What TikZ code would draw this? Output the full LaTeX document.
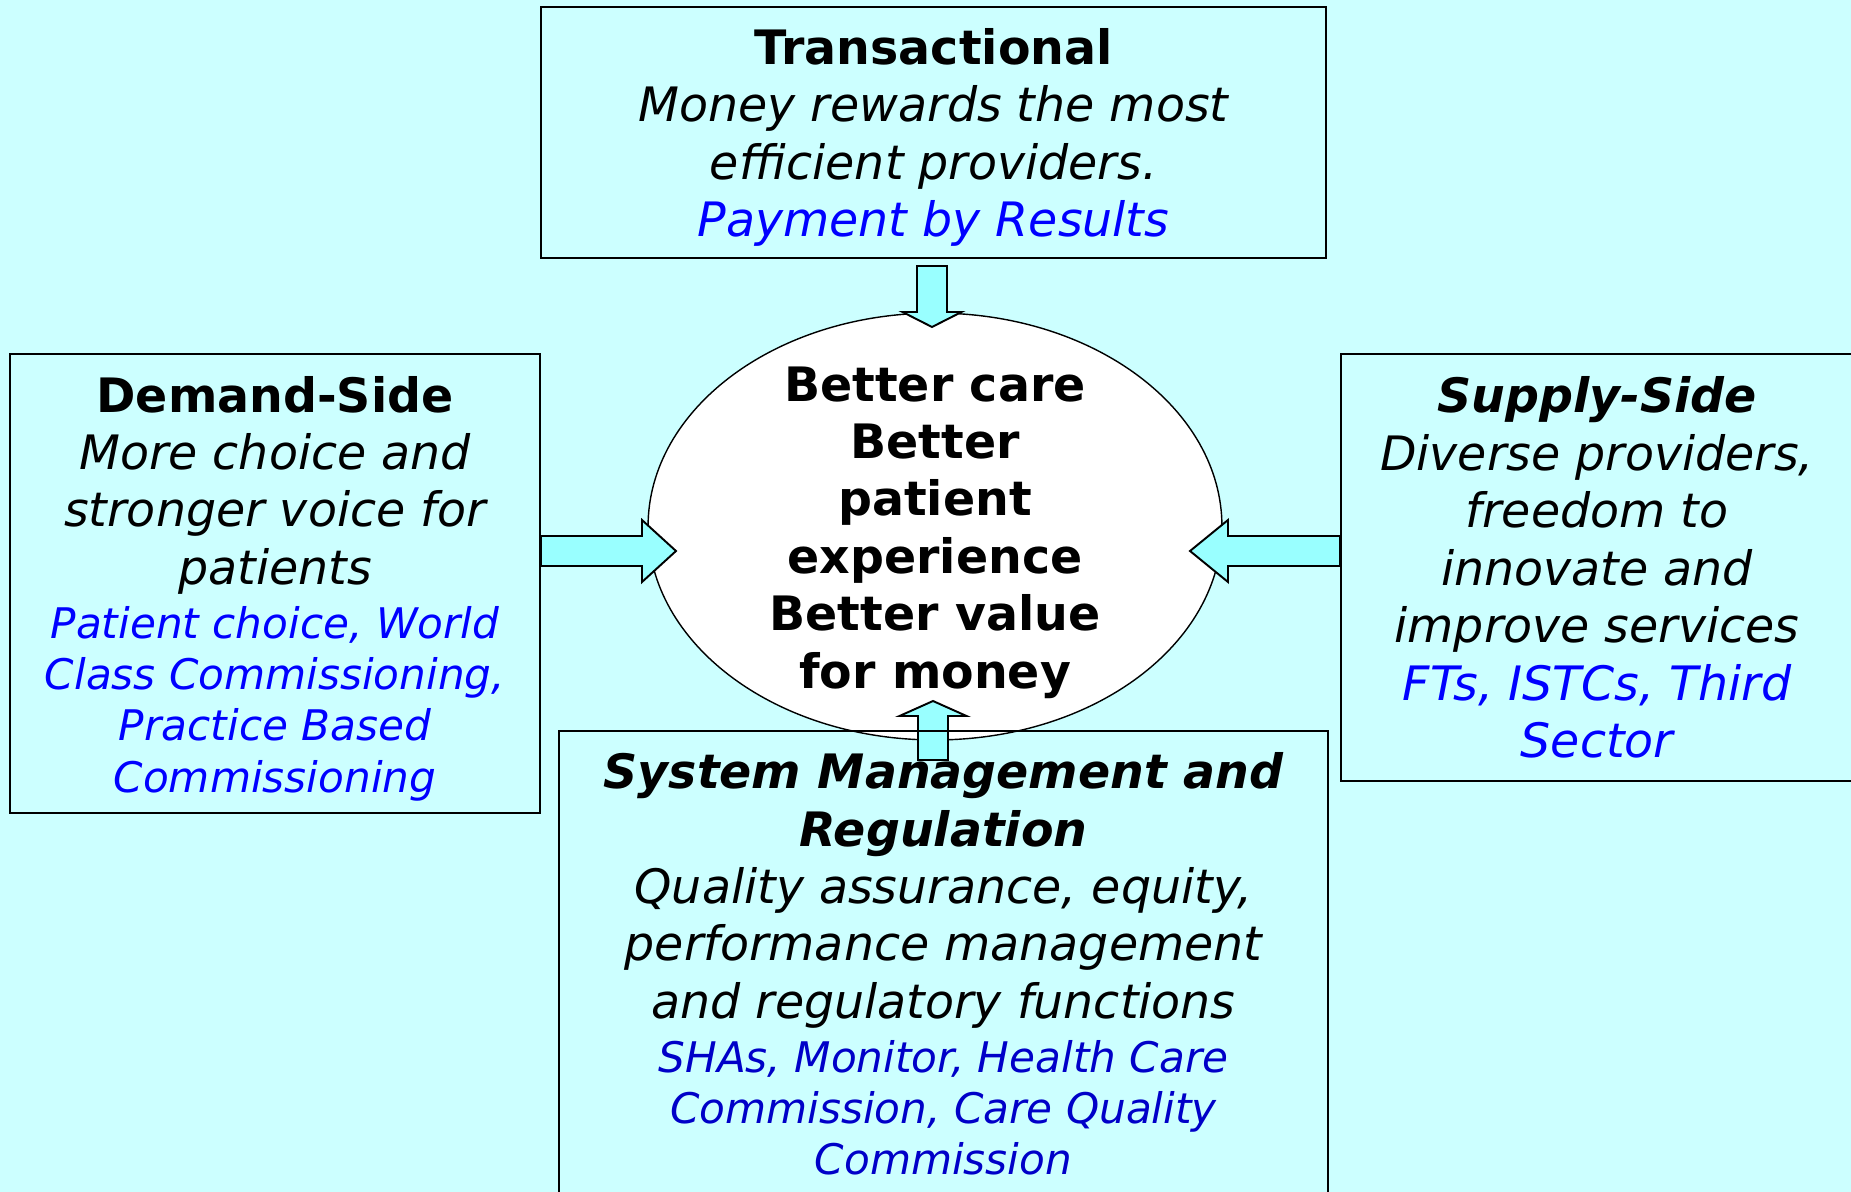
\documentclass[tikz,border=0pt]{standalone}
\usepackage{fontspec}
\setmainfont{DejaVu Sans}
\usetikzlibrary{shapes.geometric}
\usetikzlibrary{calc}

\definecolor{sheet}{HTML}{CCFFFF}
\definecolor{flow}{HTML}{99FFFF}
\definecolor{detailblue}{HTML}{0000FF}
\definecolor{deepblue}{HTML}{0000C8}

% block arrow: #1 head length, #2 half head width, #3 from, #4 tip
\newcommand{\shafthalf}{0.3cm}
\newcommand{\fatarrow}[4]{%
  \path ($(#4)!#1!(#3)$) coordinate (fa-base);
  \draw[flowarrow] ($(#3)!\shafthalf!90:(#4)$) -- ($(fa-base)!\shafthalf!-90:(#3)$)
    -- ($(fa-base)!#2!-90:(#3)$) -- (#4) -- ($(fa-base)!#2!90:(#3)$)
    -- ($(fa-base)!\shafthalf!90:(#3)$) -- ($(#3)!\shafthalf!-90:(#4)$) -- cycle;}
\newcommand{\smalldetail}[2]{{\fontsize{24}{28}\selectfont\color{#1}#2}}

\begin{document}
\begin{tikzpicture}[x=0.02cm, y=-0.02cm,
  panel/.style={draw, line width=1.1pt, inner sep=0pt},
  blurb/.style={inner sep=0pt, align=center, font=\fontsize{27}{32.7}\selectfont\itshape},
  hub/.style={ellipse, draw, fill=white, line width=0.8pt, inner sep=0pt},
  flowarrow/.style={draw, fill=flow, line width=1.1pt, line join=miter}]
\useasboundingbox (0,0) rectangle (1851,1192);
\fill[sheet] (0,0) rectangle (1851,1192);
\clip (0,0) rectangle (1851,1192);

% centre
\node[hub, minimum width=11.48cm, minimum height=8.54cm] (aims) at (935,526.5) {};
\node[blurb, font=\fontsize{27}{32.7}\selectfont\bfseries] (aims-text) at ($(aims.center)+(0,6)$)
  {Better care\\ Better\\ patient\\ experience\\ Better value\\ for money};

% arrow ends
\coordinate (inN) at (932,266);
\coordinate (tipN) at (932,327);
\coordinate (inS) at (933,760);
\coordinate (tipS) at (933,701);
\coordinate (tipW) at (676,551);
\coordinate (tipE) at (1190,551);

\fatarrow{0.3cm}{0.59cm}{inN}{tipN}
\fatarrow{0.3cm}{0.67cm}{inS}{tipS}

% frames
\node[panel, minimum width=15.7cm, minimum height=5.02cm] (transact) at (933.5,132.5) {};
\node[panel, minimum width=10.6cm, minimum height=9.18cm] (demand) at (275,583.5) {};
\node[panel, minimum width=10.24cm, minimum height=8.54cm] (supply) at (1597,567.5) {};
\node[panel, minimum width=15.38cm, minimum height=9.48cm] (sysmgmt) at (943.5,968) {};

\fatarrow{0.68cm}{0.62cm}{demand.east |- tipW}{tipW}
\fatarrow{0.76cm}{0.62cm}{supply.west |- tipE}{tipE}

% texts
\node[blurb] (transact-text) at ($(transact.center)+(0,5)$)
  {\textup{\textbf{Transactional}}\\ Money rewards the most\\ efficient providers.\\
   \textcolor{detailblue}{Payment by Results}};
\node[blurb] (demand-text) at ($(demand.center)+(0,5)$)
  {\textup{\textbf{Demand-Side}}\\ More choice and\\ stronger voice for\\ patients\\[-2pt]
   \smalldetail{detailblue}{Patient choice, World}\\[-3.5pt]
   \smalldetail{detailblue}{Class Commissioning,}\\[-3.5pt]
   \smalldetail{detailblue}{Practice Based}\\[-3.5pt]
   \smalldetail{detailblue}{Commissioning}};
\node[blurb] (supply-text) at (supply.center)
  {\textbf{Supply-Side}\\ Diverse providers,\\ freedom to\\ innovate and\\ improve services\\
   \textcolor{detailblue}{FTs, ISTCs, Third}\\ \textcolor{detailblue}{Sector}};
\node[blurb] (sysmgmt-text) at ($(sysmgmt.center)+(0,-4)$)
  {\textbf{System Management and}\\ \textbf{Regulation}\\ Quality assurance, equity,\\
   performance management\\ and regulatory functions\\[-2pt]
   \smalldetail{deepblue}{SHAs, Monitor, Health Care}\\[-3.5pt]
   \smalldetail{deepblue}{Commission, Care Quality}\\[-3.5pt]
   \smalldetail{deepblue}{Commission}};
\end{tikzpicture}
\end{document}
